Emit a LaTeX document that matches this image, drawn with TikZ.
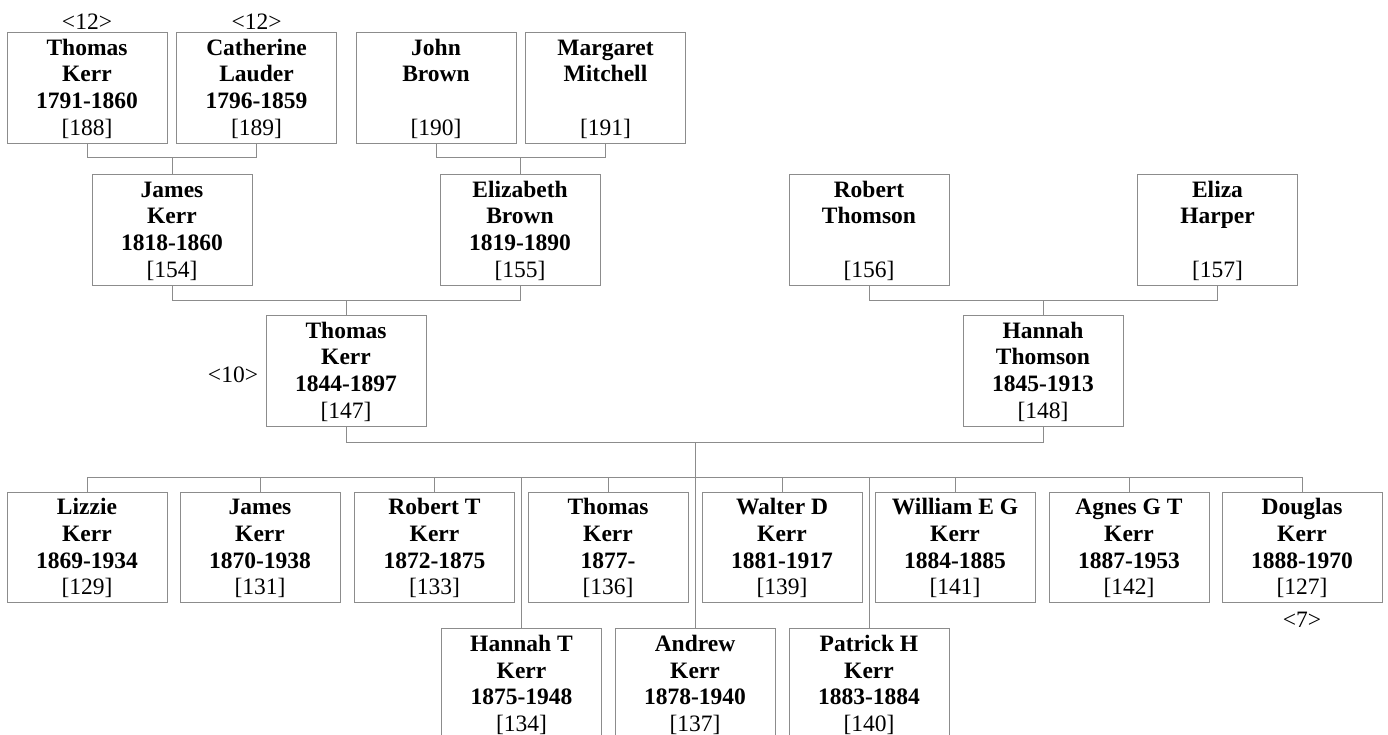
\documentclass[tikz,border=0pt]{standalone}
\usepackage{fontspec}
\setmainfont{Liberation Serif}
\definecolor{lc}{RGB}{140,140,140}
\newcommand\fourl[4]{\rule{0pt}{22.7pt}\textbf{#1}\\\strut\textbf{#2}\\\strut\textbf{#3}\\\strut{[#4]}}
\tikzset{
  pers/.style={draw=lc, line width=1pt, minimum width=160pt, minimum height=110pt, inner sep=0pt, align=center, font={\fontsize{23.5}{26.7}\selectfont}},
  lab/.style={inner sep=0pt, font=\fontsize{23.5}{26}\selectfont},
  conn/.style={draw=lc, line width=1pt}
}
\begin{document}
\begin{tikzpicture}[x=1pt,y=-1pt]
\path[use as bounding box] (0,0) rectangle (1388,735);
\clip (0,0) rectangle (1388,735);
% row 1
\node[pers] (p188) at (87,88) {\fourl{Thomas}{Kerr}{1791-1860}{188}};
\node[pers] (p189) at (256.5,88) {\fourl{Catherine}{Lauder}{1796-1859}{189}};
\node[pers] (p190) at (436,88) {\fourl{John}{Brown}{}{190}};
\node[pers] (p191) at (605.5,88) {\fourl{Margaret}{Mitchell}{}{191}};
\node[lab] (l188) at (87,22) {<12>};
\node[lab] (l189) at (256.5,22) {<12>};
% row 2
\node[pers] (p154) at (172,230) {\fourl{James}{Kerr}{1818-1860}{154}};
\node[pers] (p155) at (520,230) {\fourl{Elizabeth}{Brown}{1819-1890}{155}};
\node[pers] (p156) at (869,230) {\fourl{Robert}{Thomson}{}{156}};
\node[pers] (p157) at (1217.5,230) {\fourl{Eliza}{Harper}{}{157}};
% row 3
\node[pers] (p147) at (346,371) {\fourl{Thomas}{Kerr}{1844-1897}{147}};
\node[pers] (p148) at (1043,371) {\fourl{Hannah}{Thomson}{1845-1913}{148}};
\node[lab] (l147) at (233,375) {<10>};
% row 4
\node[pers] (c129) at (87,547.5) {\fourl{Lizzie}{Kerr}{1869-1934}{129}};
\node[pers] (c131) at (260,547.5) {\fourl{James}{Kerr}{1870-1938}{131}};
\node[pers] (c133) at (434.5,547.5) {\fourl{Robert T}{Kerr}{1872-1875}{133}};
\node[pers] (c136) at (608,547.5) {\fourl{Thomas}{Kerr}{1877-}{136}};
\node[pers] (c139) at (782,547.5) {\fourl{Walter D}{Kerr}{1881-1917}{139}};
\node[pers] (c141) at (955,547.5) {\fourl{William E G}{Kerr}{1884-1885}{141}};
\node[pers] (c142) at (1129,547.5) {\fourl{Agnes G T}{Kerr}{1887-1953}{142}};
\node[pers] (c127) at (1302,547.5) {\fourl{Douglas}{Kerr}{1888-1970}{127}};
\node[lab] (l127) at (1302,620) {<7>};
% row 5
\node[pers] (c134) at (521.5,684) {\fourl{Hannah T}{Kerr}{1875-1948}{134}};
\node[pers] (c137) at (695,684) {\fourl{Andrew}{Kerr}{1878-1940}{137}};
\node[pers] (c140) at (869,684) {\fourl{Patrick H}{Kerr}{1883-1884}{140}};
% connectors
\coordinate (ja) at (172,158);
\draw[conn] (p188.south) -- (p188.south |- ja) -- (p189.south |- ja) -- (p189.south);
\draw[conn] (ja) -- (p154.north);
\coordinate (jb) at (520,158);
\draw[conn] (p190.south) -- (p190.south |- jb) -- (p191.south |- jb) -- (p191.south);
\draw[conn] (jb) -- (p155.north);
\coordinate (jc) at (346,300);
\draw[conn] (p154.south) -- (p154.south |- jc) -- (p155.south |- jc) -- (p155.south);
\draw[conn] (jc) -- (p147.north);
\coordinate (jd) at (1043,300);
\draw[conn] (p156.south) -- (p156.south |- jd) -- (p157.south |- jd) -- (p157.south);
\draw[conn] (jd) -- (p148.north);
\coordinate (je) at (695,442);
\coordinate (bus) at (695,477);
\draw[conn] (p147.south) -- (p147.south |- je) -- (p148.south |- je) -- (p148.south);
\draw[conn] (je) -- (bus);
\draw[conn] (c129.north |- bus) -- (c127.north |- bus);
\foreach \c in {c129,c131,c133,c136,c139,c141,c142,c127}{
  \draw[conn] (\c.north) -- (\c.north |- bus);
}
\foreach \c in {c134,c137,c140}{
  \draw[conn] (\c.north) -- (\c.north |- bus);
}
\end{tikzpicture}
\end{document}
